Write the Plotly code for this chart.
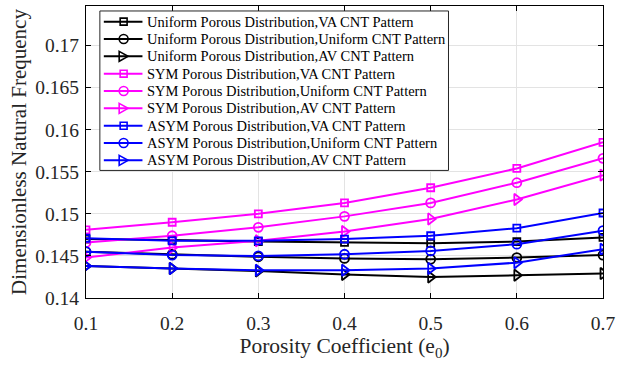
import plotly.graph_objects as go

# Porosity coefficient values
porosity = [0.1, 0.2, 0.3, 0.4, 0.5, 0.6, 0.7]
x_tick_labels = ["0.1", "0.2", "0.3", "0.4", "0.5", "0.6", "0.7"]

# Dimensionless natural frequency for each porosity distribution / CNT pattern
uniform_va = [0.1470, 0.1469, 0.1467, 0.1466, 0.1465, 0.1467, 0.1472]
uniform_uni = [0.1455, 0.1452, 0.1449, 0.1447, 0.1446, 0.1448, 0.1451]
uniform_av = [0.1438, 0.1435, 0.1432, 0.1428, 0.1425, 0.1427, 0.1429]
sym_va = [0.1481, 0.1490, 0.1500, 0.1513, 0.1531, 0.1554, 0.1585]
sym_uni = [0.1466, 0.1474, 0.1484, 0.1497, 0.1513, 0.1537, 0.1566]
sym_av = [0.1448, 0.1460, 0.1468, 0.1479, 0.1494, 0.1517, 0.1546]
asym_va = [0.1471, 0.1468, 0.1468, 0.1470, 0.1474, 0.1483, 0.1501]
asym_uni = [0.1455, 0.1451, 0.1450, 0.1452, 0.1456, 0.1464, 0.1480]
asym_av = [0.1438, 0.1435, 0.1433, 0.1433, 0.1435, 0.1442, 0.1458]

series_names = [
    "Uniform Porous Distribution,VA CNT Pattern",
    "Uniform Porous Distribution,Uniform CNT Pattern",
    "Uniform Porous Distribution,AV CNT Pattern",
    "SYM Porous Distribution,VA CNT Pattern",
    "SYM Porous Distribution,Uniform CNT Pattern",
    "SYM Porous Distribution,AV CNT Pattern",
    "ASYM Porous Distribution,VA CNT Pattern",
    "ASYM Porous Distribution,Uniform CNT Pattern",
    "ASYM Porous Distribution,AV CNT Pattern",
]
series_values = [uniform_va, uniform_uni, uniform_av,
                 sym_va, sym_uni, sym_av,
                 asym_va, asym_uni, asym_av]

MAGENTA = "#FF00FF"
BLUE = "#0000FF"
BLACK = "#000000"
colors = [BLACK] * 3 + [MAGENTA] * 3 + [BLUE] * 3
symbols = ["square", "circle", "triangle"] * 3
plotly_symbols = {"square": "square-open", "circle": "circle-open", "triangle": "triangle-right-open"}
marker_sizes = {"square": 7, "circle": 9, "triangle": 10}

FONT = "Liberation Serif"

# Figure geometry (pixels)
W, H = 620, 367
ML, MR, MT, MB = 86, 12, 5, 69
PW, PH = W - ML - MR, H - MT - MB

fig = go.Figure()
for name, vals, color, sym in zip(series_names, series_values, colors, symbols):
    fig.add_trace(go.Scatter(
        x=porosity, y=vals, name=name, mode="lines+markers", showlegend=False,
        line=dict(color=color, width=2),
        marker=dict(symbol=plotly_symbols[sym], size=marker_sizes[sym], color=color,
                    line=dict(width=1.8, color=color)),
    ))


# Legend box drawn by hand so the row pitch stays compact
def px_x(p):
    return (p - ML) / PW


def px_y(p):
    return (H - MB - p) / PH


LEG_L, LEG_R, LEG_T, LEG_B = 100, 452, 10, 170
ROW0, ROW_PITCH = 20.7, 17.4
SAMPLE_X0, SAMPLE_X1, SAMPLE_XC, TEXT_X = 104, 143, 124, 146

shapes = [dict(type="rect", xref="paper", yref="paper", layer="above",
               x0=px_x(LEG_L), x1=px_x(LEG_R), y0=px_y(LEG_B), y1=px_y(LEG_T),
               fillcolor="white", line=dict(color="#262626", width=1))]
annotations = []
for i, (name, color, sym) in enumerate(zip(series_names, colors, symbols)):
    cy = ROW0 + i * ROW_PITCH
    shapes.append(dict(type="line", xref="paper", yref="paper", layer="above",
                       x0=px_x(SAMPLE_X0), x1=px_x(SAMPLE_X1), y0=px_y(cy), y1=px_y(cy),
                       line=dict(color=color, width=2)))
    if sym == "square":
        r = 3.5
        shapes.append(dict(type="rect", xref="paper", yref="paper", layer="above",
                           x0=px_x(SAMPLE_XC - r), x1=px_x(SAMPLE_XC + r),
                           y0=px_y(cy + r), y1=px_y(cy - r),
                           line=dict(color=color, width=1.6)))
    elif sym == "circle":
        r = 4.5
        shapes.append(dict(type="circle", xref="paper", yref="paper", layer="above",
                           x0=px_x(SAMPLE_XC - r), x1=px_x(SAMPLE_XC + r),
                           y0=px_y(cy + r), y1=px_y(cy - r),
                           line=dict(color=color, width=1.6)))
    else:
        hw, hh = 4.5, 5
        path = "M{},{} L{},{} L{},{} Z".format(
            px_x(SAMPLE_XC - hw), px_y(cy - hh),
            px_x(SAMPLE_XC + hw), px_y(cy),
            px_x(SAMPLE_XC - hw), px_y(cy + hh))
        shapes.append(dict(type="path", xref="paper", yref="paper", layer="above",
                           path=path, line=dict(color=color, width=1.6)))
    annotations.append(dict(xref="paper", yref="paper", x=px_x(TEXT_X), y=px_y(cy),
                            xanchor="left", yanchor="middle", showarrow=False,
                            text=name, font=dict(family=FONT, size=14.5, color="black")))

fig.update_layout(
    width=W, height=H,
    margin=dict(l=ML, r=MR, t=MT, b=MB),
    paper_bgcolor="white", plot_bgcolor="white",
    font=dict(family=FONT, color="black"),
    showlegend=False,
    shapes=shapes,
    annotations=annotations,
    xaxis=dict(
        range=[0.1, 0.7], tickvals=porosity, ticktext=x_tick_labels,
        showgrid=True, gridcolor="#E3E3E3", gridwidth=1,
        showline=True, linecolor="black", linewidth=1, mirror="ticks",
        ticks="inside", ticklen=5, tickcolor="black",
        ticklabeloverflow="allow", ticklabelstandoff=8,
        tickfont=dict(family=FONT, size=19.5, color="#262626"), zeroline=False,
        title=dict(text="Porosity Coefficient (e<sub>0</sub>)",
                   font=dict(family=FONT, size=21.5, color="#262626"), standoff=4),
    ),
    yaxis=dict(
        range=[0.14, 0.1747], tick0=0.14, dtick=0.005,
        showgrid=True, gridcolor="#E3E3E3", gridwidth=1,
        showline=True, linecolor="black", linewidth=1, mirror="ticks",
        ticks="inside", ticklen=5, tickcolor="black",
        ticklabeloverflow="allow", ticklabelstandoff=2,
        tickfont=dict(family=FONT, size=19.5, color="#262626"), zeroline=False,
        title=dict(text="Dimensionless Natural Frequency",
                   font=dict(family=FONT, size=21, color="#262626"), standoff=2),
    ),
)

fig.write_html("out.html")
